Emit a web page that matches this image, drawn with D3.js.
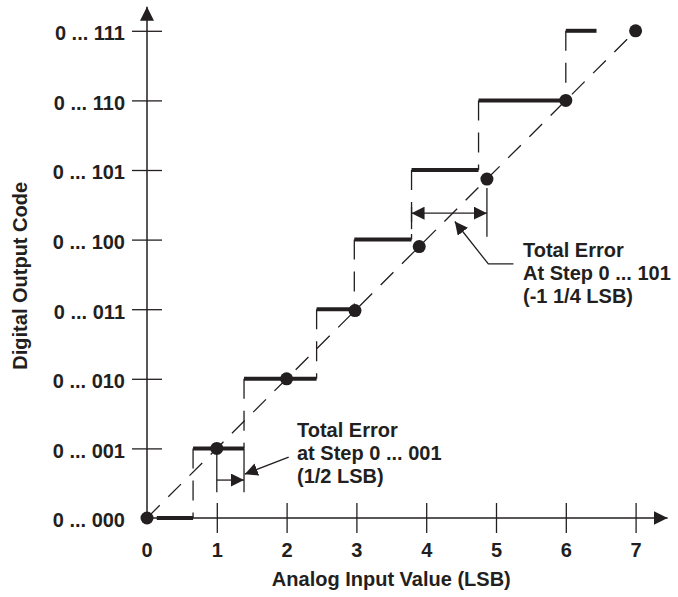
<!DOCTYPE html>
<html lang="en">
<head>
  <meta charset="utf-8">
  <title>Total Error</title>
  <script src="https://d3js.org/d3.v7.min.js"></script>
  <style>
    body { margin: 0; background: #fff; }
    svg text { font-family: "Liberation Sans", Arial, Helvetica, sans-serif; font-weight: bold; fill: #231f20; }
  </style>
</head>
<body>
<script>
// tick values and labels
var xTicks = [1, 2, 3, 4, 5, 6, 7];
var codeTicks = [1, 2, 3, 4, 5, 6, 7];
var codeLabels = ["0 ... 000", "0 ... 001", "0 ... 010", "0 ... 011", "0 ... 100", "0 ... 101", "0 ... 110", "0 ... 111"];

// actual transfer function: each code's horizontal step (LSB)
var stepStart = [0.14, 0.66, 1.39, 2.43, 2.97, 3.79, 4.75, 6.0];
var stepEnd   = [0.66, 1.39, 2.43, 2.97, 3.79, 4.75, 6.0, 6.44];

// dots on the ideal line
var dotX = [0, 1, 2, 2.98, 3.9, 4.87, 6, 7];
var dotY = [0, 1, 2, 2.98, 3.9, 4.87, 6, 7];

// annotations
var note1 = ["Total Error", "at Step 0 ... 001", "(1/2 LSB)"];
var note2 = ["Total Error", "At Step 0 ... 101", "(-1 1/4 LSB)"];

var width = 678, height = 597;
var ink = "#231f20";
var font = '"Liberation Sans", Arial, Helvetica, sans-serif';

var svg = d3.select("body").append("svg")
  .attr("width", width)
  .attr("height", height);

var x = d3.scaleLinear().domain([0, 7]).range([147, 635.6]);
var y = d3.scaleLinear().domain([0, 7]).range([518, 30.8]);

// arrowhead markers
var defs = svg.append("defs");
function marker(id, len, half) {
  defs.append("marker")
    .attr("id", id)
    .attr("markerUnits", "userSpaceOnUse")
    .attr("viewBox", "0 " + (-half) + " " + len + " " + (2 * half))
    .attr("refX", len).attr("refY", 0)
    .attr("markerWidth", len).attr("markerHeight", 2 * half)
    .attr("orient", "auto-start-reverse")
    .append("path")
    .attr("d", "M0," + (-half) + "L" + len + ",0L0," + half + "Z")
    .attr("fill", ink);
}
marker("big", 14, 7);
marker("small", 13, 6.5);

// axes
var xAxis = d3.axisBottom(x).tickValues(xTicks).tickSize(15).tickSizeOuter(0).tickPadding(9.7)
  .tickFormat(d3.format("d"));
var gx = svg.append("g").attr("transform", "translate(0," + y(0) + ")").call(xAxis)
  .attr("font-family", font).attr("font-weight", "bold").attr("font-size", 20);
gx.select(".domain").remove();
gx.selectAll(".tick line").attr("y1", -15).attr("stroke", ink).attr("stroke-width", 1.3);
gx.selectAll(".tick text").style("font-family", font).style("font-size", "20px").attr("fill", ink);

var yAxis = d3.axisLeft(y).tickValues(codeTicks).tickSize(15).tickSizeOuter(0).tickPadding(7)
  .tickFormat(function (d) { return codeLabels[d]; });
var gy = svg.append("g").attr("transform", "translate(" + x(0) + ",0)").call(yAxis)
  .attr("font-family", font).attr("font-weight", "bold").attr("font-size", 20);
gy.select(".domain").remove();
gy.selectAll(".tick line").attr("x1", 15).attr("stroke", ink).attr("stroke-width", 1.3);
gy.selectAll(".tick text").style("font-family", font).style("font-size", "20px").attr("dy", "0.44em").attr("fill", ink);

// labels at the origin
svg.append("text")
  .attr("x", x(0) - 22).attr("y", y(0)).attr("dy", "0.44em")
  .attr("text-anchor", "end").style("font-size", "20px")
  .text(codeLabels[0]);
svg.append("text")
  .attr("x", x(0)).attr("y", y(0) + 24.7).attr("dy", "0.71em")
  .attr("text-anchor", "middle").style("font-size", "20px")
  .text("0");

// axis lines with arrows
svg.append("line")
  .attr("x1", x(0)).attr("y1", y(0)).attr("x2", x(7) + 32).attr("y2", y(0))
  .attr("stroke", ink).attr("stroke-width", 1.5).attr("marker-end", "url(#big)");
svg.append("line")
  .attr("x1", x(0)).attr("y1", y(0)).attr("x2", x(0)).attr("y2", y(7) - 24)
  .attr("stroke", ink).attr("stroke-width", 1.5).attr("marker-end", "url(#big)");

// axis titles
svg.append("text")
  .attr("x", x(3.5)).attr("y", 586)
  .attr("text-anchor", "middle").style("font-size", "20px")
  .text("Analog Input Value (LSB)");
svg.append("text")
  .attr("transform", "translate(27," + y(3.48) + ") rotate(-90)")
  .attr("text-anchor", "middle").style("font-size", "20px")
  .text("Digital Output Code");

// ideal line
svg.append("line")
  .attr("x1", x(0)).attr("y1", y(0)).attr("x2", x(7)).attr("y2", y(7))
  .attr("stroke", ink).attr("stroke-width", 1.3).attr("stroke-dasharray", "18,12");

// dashed code transitions
var codes = d3.range(1, stepStart.length);
svg.append("g").selectAll("line")
  .data(codes).enter().append("line")
  .attr("x1", function (k) { return x(stepStart[k]); })
  .attr("x2", function (k) { return x(stepStart[k]); })
  .attr("y1", function (k) { return y(k); })
  .attr("y2", function (k) { return y(k - 1); })
  .attr("stroke", ink).attr("stroke-width", 1.3).attr("stroke-dasharray", "20,12");

// thick steps
svg.append("g").selectAll("line")
  .data(d3.range(stepStart.length)).enter().append("line")
  .attr("x1", function (k) { return x(stepStart[k]); })
  .attr("x2", function (k) { return x(stepEnd[k]); })
  .attr("y1", function (k) { return y(k); })
  .attr("y2", function (k) { return y(k); })
  .attr("stroke", ink).attr("stroke-width", 4);

// annotation construction lines
function seg(x1, y1, x2, y2) {
  return svg.append("line")
    .attr("x1", x(x1)).attr("y1", y(y1)).attr("x2", x(x2)).attr("y2", y(y2))
    .attr("stroke", ink).attr("stroke-width", 1.3);
}
seg(1, 1, 1, 0.37);
seg(1.39, 1, 1.39, 0.37);
seg(1.0, 0.545, 1.39, 0.545).attr("marker-end", "url(#small)");
seg(2.03, 0.875, 1.40, 0.63).attr("marker-end", "url(#small)");

seg(3.79, 4.47, 3.79, 4.15);
seg(4.87, 4.74, 4.87, 4.04);
seg(3.79, 4.38, 4.87, 4.38).attr("marker-start", "url(#small)").attr("marker-end", "url(#small)");
svg.append("path")
  .attr("d", d3.line().x(function (d) { return x(d[0]); }).y(function (d) { return y(d[1]); })
    ([[5.25, 3.65], [4.89, 3.65], [4.41, 4.26]]))
  .attr("fill", "none").attr("stroke", ink).attr("stroke-width", 1.3)
  .attr("marker-end", "url(#small)");

// dots
svg.append("g").selectAll("circle")
  .data(dotX).enter().append("circle")
  .attr("cx", function (d) { return x(d); })
  .attr("cy", function (d, i) { return y(dotY[i]); })
  .attr("r", 6.5)
  .attr("fill", ink);

// annotation texts
function note(lines, left, top) {
  svg.append("g").selectAll("text")
    .data(lines).enter().append("text")
    .attr("x", left)
    .attr("y", function (d, i) { return top + i * 23; })
    .style("font-size", "20px")
    .text(function (d) { return d; });
}
note(note1, 297, 437);
note(note2, 523, 257);
</script>
</body>
</html>
